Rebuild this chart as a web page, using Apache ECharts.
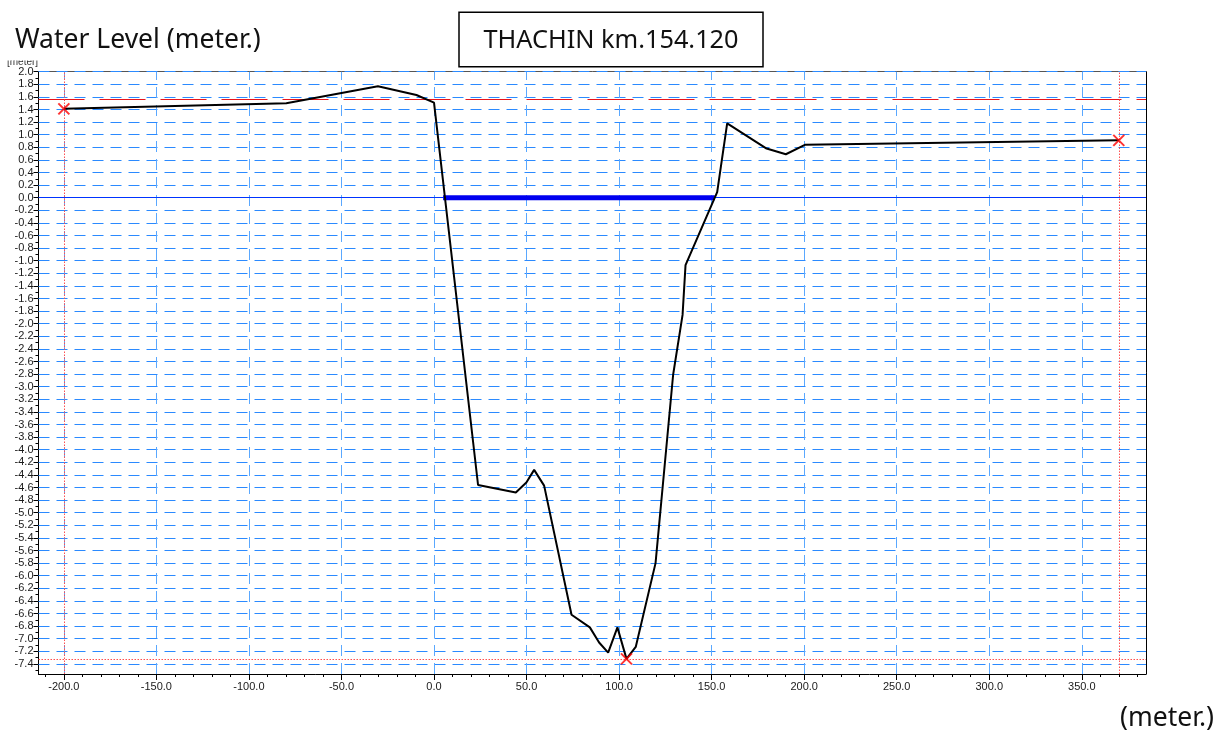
<!DOCTYPE html>
<html>
<head>
<meta charset="utf-8">
<script src="https://cdn.jsdelivr.net/npm/echarts@6/dist/echarts.min.js"></script>
<style>
html,body{margin:0;padding:0;background:#fff;}
#chart{width:1227px;height:731px;}
</style>
</head>
<body>
<div id="chart"></div>
<script>
// ---- data ----
const xTickLabels = [-200, -150, -100, -50, 0, 50, 100, 150, 200, 250, 300, 350];
const yTickLabels = [2.0, 1.8, 1.6, 1.4, 1.2, 1.0, 0.8, 0.6, 0.4, 0.2, 0.0,
  -0.2, -0.4, -0.6, -0.8, -1.0, -1.2, -1.4, -1.6, -1.8, -2.0, -2.2, -2.4, -2.6, -2.8,
  -3.0, -3.2, -3.4, -3.6, -3.8, -4.0, -4.2, -4.4, -4.6, -4.8, -5.0, -5.2, -5.4, -5.6,
  -5.8, -6.0, -6.2, -6.4, -6.6, -6.8, -7.0, -7.2, -7.4];
const profileX = [-200, -79.8, -30.3, -9.5, 0, 23.8, 44.2, 49.9, 54.1, 59.5, 74.3, 84.2, 89.2, 94.1, 99.1, 104, 109, 119.7, 129.2, 134.3, 135.9, 153, 158.4, 179.7, 190.1, 200.4, 370];
const profileY = [1.41, 1.50, 1.77, 1.63, 1.51, -4.56, -4.68, -4.52, -4.32, -4.57, -6.62, -6.82, -7.06, -7.22, -6.82, -7.32, -7.13, -5.80, -2.81, -1.86, -1.07, 0.09, 1.18, 0.78, 0.69, 0.84, 0.91];
const waterX = [4.9, 151.7];
const waterLevel = 0.0;
const bankLevel = 1.57;
const markerX = [-200, 104, 370];
const markerY = [1.41, -7.32, 0.91];
const titleText = 'Water Level (meter.)';
const stationText = 'THACHIN km.154.120';
const xUnitText = '(meter.)';
const yUnitText = '[meter]';

// ---- axis ranges / helpers ----
const X_MIN = -213.7, X_MAX = 384.7, Y_MIN = -7.56, Y_MAX = 2.0;
const xMinor = []; for (let v = -210; v <= 380; v += 10) xMinor.push(v);
const yMinor = []; for (let i = -75; i <= 20; i++) yMinor.push(i / 10);

const chart = echarts.init(document.getElementById('chart'), null, {renderer: 'canvas'});
const labelFont = {fontSize: 11, fontFamily: 'Liberation Sans, Arial', color: '#1a1a1a'};
const gridBlue = '#2b8aff';

const gridLines = [];
yTickLabels.forEach(v => { if (v !== 0) gridLines.push({yAxis: v, lineStyle: {color: gridBlue, type: [11, 7], width: 1}}); });
xTickLabels.forEach(v => gridLines.push({xAxis: v, lineStyle: {color: '#5aa8ff', type: [11, 7], width: 1}}));

const noLine = {show: false, onZero: false};
const option = {
  animation: false,
  grid: {left: 38.5, right: 81, top: 71.7, bottom: 57, containLabel: false},
  xAxis: [
    {type: 'value', min: X_MIN, max: X_MAX, position: 'bottom',
     axisLine: {show: true, onZero: false, lineStyle: {color: '#000', width: 1}},
     axisTick: {show: true, customValues: xTickLabels, length: 6, lineStyle: {color: '#000'}},
     axisLabel: Object.assign({customValues: xTickLabels, margin: 7, formatter: v => Number(v).toFixed(1)}, labelFont),
     splitLine: {show: false}},
    {type: 'value', min: X_MIN, max: X_MAX, position: 'bottom',
     axisLine: noLine,
     axisTick: {show: true, customValues: xMinor, length: 3, lineStyle: {color: '#000'}},
     axisLabel: {show: false}, splitLine: {show: false}},
    {type: 'value', min: X_MIN, max: X_MAX, position: 'top',
     axisLine: {show: true, onZero: false, lineStyle: {color: '#555', width: 1}},
     axisTick: {show: false}, axisLabel: {show: false}, splitLine: {show: false}}
  ],
  yAxis: [
    {type: 'value', min: Y_MIN, max: Y_MAX, position: 'left',
     axisLine: {show: true, onZero: false, lineStyle: {color: '#000', width: 1}},
     axisTick: {show: true, customValues: yTickLabels, length: 5, lineStyle: {color: '#000'}},
     axisLabel: Object.assign({customValues: yTickLabels, margin: 5, formatter: v => Number(v).toFixed(1)}, labelFont),
     splitLine: {show: false}},
    {type: 'value', min: Y_MIN, max: Y_MAX, position: 'left',
     axisLine: noLine,
     axisTick: {show: true, customValues: yMinor, length: 3, lineStyle: {color: '#000'}},
     axisLabel: {show: false}, splitLine: {show: false}},
    {type: 'value', min: Y_MIN, max: Y_MAX, position: 'right',
     axisLine: {show: true, onZero: false, lineStyle: {color: '#000', width: 1}},
     axisTick: {show: false}, axisLabel: {show: false}, splitLine: {show: false}}
  ],
  series: [
    {name: 'grid', type: 'line', data: [], silent: true,
     markLine: {silent: true, symbol: ['none', 'none'], z: 1, label: {show: false}, animation: false, data: gridLines}},
    {name: 'ref', type: 'line', data: [], silent: true,
     markLine: {silent: true, symbol: ['none', 'none'], z: 3, label: {show: false}, animation: false,
       data: [
         {yAxis: waterLevel, lineStyle: {color: '#0033ff', type: 'solid', width: 1.2}},
         {yAxis: bankLevel, lineStyle: {color: '#e8141c', type: [46, 15], width: 1.2}},
         {yAxis: markerY[1], lineStyle: {color: '#ff5050', type: [1.5, 1.5], width: 1}},
         {xAxis: markerX[0], lineStyle: {color: '#ff5050', type: [1.5, 1.5], width: 1}},
         {xAxis: markerX[2], lineStyle: {color: '#ff5050', type: [1.5, 1.5], width: 1}}
       ]}},
    {name: 'water', type: 'line', z: 5, symbol: 'none',
     data: waterX.map(x => [x, waterLevel]),
     lineStyle: {color: '#0000f0', width: 5}},
    {name: 'profile', type: 'line', z: 10, symbol: 'none',
     data: profileX.map((x, i) => [x, profileY[i]]),
     lineStyle: {color: '#000', width: 2}},
    {name: 'markers', type: 'scatter', z: 12,
     symbol: 'path://M0,0L10,10M10,0L0,10', symbolSize: 11,
     data: markerX.map((x, i) => [x, markerY[i]]),
     itemStyle: {color: 'none', borderColor: '#ff0000', borderWidth: 2}}
  ],
  graphic: [
    {type: 'text', left: 7, top: 57, z: 1,
     style: {text: yUnitText, fontSize: 10, fontFamily: 'Liberation Sans, Arial', fill: '#333'}},
    {type: 'rect', shape: {x: 0, y: 51, width: 45, height: 9.5}, z: 2, style: {fill: '#fff'}},
    {type: 'text', x: 15, y: 40, z: 5,
     style: {text: titleText, fontSize: 26.5, fontFamily: 'Noto Sans', fill: '#111', textVerticalAlign: 'middle'}},
    {type: 'rect', shape: {x: 459, y: 12.3, width: 304, height: 54.4}, z: 5,
     style: {fill: '#fff', stroke: '#000', lineWidth: 1.5}},
    {type: 'text', x: 611, y: 41, z: 6,
     style: {text: stationText, fontSize: 25.3, fontFamily: 'Noto Sans', fill: '#111', textAlign: 'center', textVerticalAlign: 'middle'}},
    {type: 'text', x: 1214, y: 718, z: 5,
     style: {text: xUnitText, fontSize: 26.5, fontFamily: 'Noto Sans', fill: '#111', textAlign: 'right', textVerticalAlign: 'middle'}}
  ]
};
chart.setOption(option);
</script>
</body>
</html>
